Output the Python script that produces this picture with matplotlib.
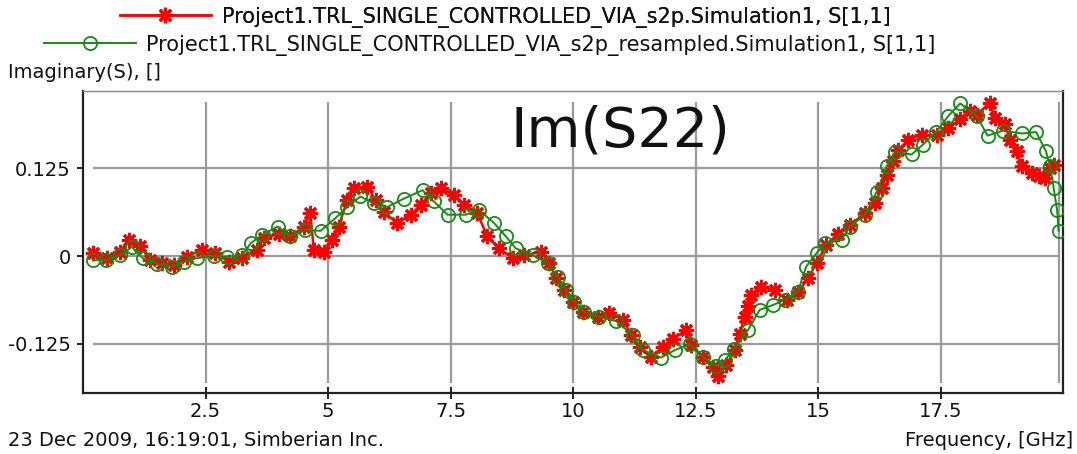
import matplotlib
matplotlib.use("Agg")
import matplotlib.pyplot as plt

# S[1,1] imaginary part, original sweep
freq_s2p = [0.21, 0.48, 0.76, 0.93, 1.17, 1.37, 1.61, 1.85, 2.12, 2.43,
            2.70, 2.97, 3.25, 3.55, 3.69, 4.00, 4.23, 4.51, 4.64, 4.71,
            4.91, 5.09, 5.22, 5.39, 5.53, 5.80, 5.97, 6.14, 6.41, 6.69,
            6.89, 7.10, 7.30, 7.57, 7.78, 8.05, 8.25, 8.49, 8.77, 9.00,
            9.35, 9.52, 9.65, 9.82, 9.99, 10.20, 10.50, 10.74, 11.02, 11.19,
            11.36, 11.60, 11.83, 12.04, 12.31, 12.41, 12.65, 12.85, 12.96, 13.13,
            13.30, 13.40, 13.50, 13.57, 13.64, 13.84, 14.12, 14.36, 14.59, 14.80,
            14.97, 15.17, 15.41, 15.65, 15.96, 16.16, 16.30, 16.40, 16.54, 16.64,
            16.84, 17.12, 17.42, 17.66, 17.90, 18.11, 18.24, 18.51, 18.61, 18.82,
            18.92, 19.06, 19.16, 19.37, 19.50, 19.64, 19.74, 19.81]
im_s2p = [0.004, -0.003, 0.006, 0.023, 0.014, -0.006, -0.010, -0.013, -0.001, 0.009,
          0.004, -0.008, -0.003, 0.009, 0.025, 0.032, 0.028, 0.042, 0.061, 0.009,
          0.006, 0.023, 0.042, 0.080, 0.097, 0.099, 0.080, 0.063, 0.047, 0.059,
          0.073, 0.090, 0.097, 0.087, 0.073, 0.061, 0.028, 0.011, -0.003, 0.001,
          0.006, -0.010, -0.032, -0.049, -0.065, -0.080, -0.087, -0.082, -0.091, -0.113,
          -0.130, -0.144, -0.130, -0.118, -0.106, -0.127, -0.144, -0.158, -0.172, -0.156,
          -0.134, -0.112, -0.087, -0.072, -0.056, -0.044, -0.049, -0.063, -0.051, -0.032,
          -0.010, 0.016, 0.032, 0.044, 0.061, 0.075, 0.097, 0.116, 0.135, 0.151,
          0.166, 0.173, 0.173, 0.183, 0.195, 0.207, 0.202, 0.219, 0.197, 0.188,
          0.166, 0.150, 0.128, 0.119, 0.114, 0.111, 0.126, 0.130]

# same quantity after resampling
freq_resampled = [0.21, 0.47, 0.76, 1.00, 1.22, 1.52, 1.81, 2.07, 2.32, 2.67,
                  2.94, 3.25, 3.42, 3.65, 3.97, 4.23, 4.54, 4.85, 5.15, 5.39,
                  5.66, 5.94, 6.21, 6.55, 6.93, 7.16, 7.44, 7.81, 8.08, 8.39,
                  8.63, 8.83, 9.18, 9.48, 9.69, 9.86, 10.03, 10.23, 10.54, 10.88,
                  11.22, 11.42, 11.80, 12.09, 12.38, 12.65, 12.92, 13.10, 13.28, 13.57,
                  13.81, 14.08, 14.32, 14.59, 14.76, 14.97, 15.14, 15.48, 15.65, 15.96,
                  16.20, 16.40, 16.57, 16.91, 17.14, 17.41, 17.66, 17.90, 18.24, 18.46,
                  18.78, 19.16, 19.45, 19.65, 19.74, 19.81, 19.88, 19.91]
im_resampled = [-0.006, -0.006, 0.001, 0.013, -0.003, -0.011, -0.015, -0.008, -0.003, 0.000,
                -0.001, 0.001, 0.018, 0.030, 0.042, 0.028, 0.037, 0.036, 0.054, 0.070,
                0.085, 0.075, 0.070, 0.082, 0.094, 0.078, 0.059, 0.059, 0.066, 0.047,
                0.028, 0.011, 0.001, -0.010, -0.030, -0.049, -0.065, -0.080, -0.087, -0.093,
                -0.113, -0.134, -0.145, -0.134, -0.126, -0.144, -0.157, -0.149, -0.133, -0.106,
                -0.077, -0.070, -0.063, -0.051, -0.015, 0.004, 0.018, 0.023, 0.042, 0.059,
                0.092, 0.128, 0.149, 0.145, 0.159, 0.177, 0.200, 0.218, 0.200, 0.172,
                0.179, 0.175, 0.177, 0.150, 0.128, 0.097, 0.065, 0.036]

xticks = [2.5, 5, 7.5, 10, 12.5, 15, 17.5]
xtick_labels = ["2.5", "5", "7.5", "10", "12.5", "15", "17.5"]
yticks = [-0.125, 0, 0.125]
ytick_labels = ["-0.125", "0", "0.125"]

label_s2p = "Project1.TRL_SINGLE_CONTROLLED_VIA_s2p.Simulation1, S[1,1]"
label_resampled = "Project1.TRL_SINGLE_CONTROLLED_VIA_s2p_resampled.Simulation1, S[1,1]"

plt.rcParams["font.family"] = "DejaVu Sans"
plt.rcParams["font.size"] = 14

W, H = 1077, 454
fig = plt.figure(figsize=(W / 100, H / 100), dpi=100)
ax = fig.add_axes([83 / W, 1 - 393 / H, (1063 - 83) / W, (393 - 91) / H])
ax.set_xlim(0, 20)
ax.set_ylim(-0.1957, 0.2357)

# grid only covers the swept range
grid_kw = dict(color="#9a9a9a", lw=1.6, zorder=1)
ax.vlines(xticks + [freq_resampled[-1]], -0.181, 0.220, **grid_kw)
ax.hlines(yticks, freq_s2p[0] - 0.01, freq_resampled[-1], **grid_kw)

red, = ax.plot(freq_s2p, im_s2p, color="#ff0000", lw=1.8,
               marker=(8, 2, 0), ms=11, mew=2.2, label=label_s2p, zorder=3)
green, = ax.plot(freq_resampled, im_resampled, color="#148c14", lw=1.4,
                 marker="o", ms=9.5, mfc="none", mew=1.3, label=label_resampled, zorder=4)

ax.set_xticks(xticks, xtick_labels)
ax.set_yticks(yticks, ytick_labels)
ax.tick_params(axis="x", direction="inout", length=9, width=1.3, pad=2, colors="#111")
ax.tick_params(axis="y", direction="out", length=4, width=1.3, pad=5, colors="#111")

for side in ("left", "bottom", "right"):
    ax.spines[side].set_color("#222")
    ax.spines[side].set_linewidth(1.6)
ax.spines["top"].set_color("#888")
ax.spines["top"].set_linewidth(1.0)

ax.text((510 - 83) / 49.0, (256 - 147) / 700.0, "Im(S22)",
        fontsize=40, ha="left", va="baseline", color="#111")

leg1 = fig.legend(handles=[red], loc="center", bbox_to_anchor=(505 / W, 1 - 17 / H),
                  frameon=False, handlelength=4.4, handletextpad=0.5, borderpad=0,
                  fontsize=15, labelcolor="#111")
fig.add_artist(leg1)
fig.legend(handles=[green], loc="center", bbox_to_anchor=(490 / W, 1 - 45 / H),
           frameon=False, handlelength=4.4, handletextpad=0.5, borderpad=0,
           fontsize=15, labelcolor="#111")

fig.text(8 / W, 1 - 72 / H, "Imaginary(S), []", ha="left", va="center", color="#111")
fig.text(8 / W, 1 - 440 / H, "23 Dec 2009, 16:19:01, Simberian Inc.",
         ha="left", va="center", color="#111")
fig.text(1073 / W, 1 - 440 / H, "Frequency, [GHz]", ha="right", va="center", color="#111")

fig.savefig("out.png", dpi=100)
